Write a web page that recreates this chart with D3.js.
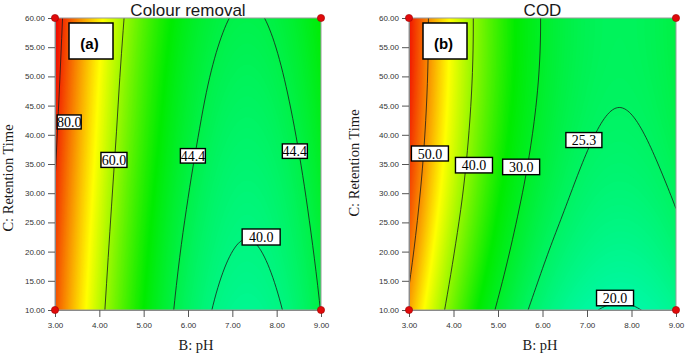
<!DOCTYPE html>
<html><head><meta charset="utf-8">
<script src="https://cdn.jsdelivr.net/npm/d3@7"></script>
<style>body{margin:0;background:#fff} svg{display:block}</style>
</head><body>
<svg id="chart" width="685" height="357"></svg>
<script>
// ---------------- data ----------------
const pHValues = [3, 4, 5, 6, 7, 8, 9];
const timeValues = [10, 20, 30, 40, 50, 60];
const xTicks = [3, 4, 5, 6, 7, 8, 9];
const yTicks = [10, 15, 20, 25, 30, 35, 40, 45, 50, 55, 60];
const titles = ["Colour removal", "COD"];
const tags = ["(a)", "(b)"];
const xAxisTitle = "B: pH";
const yAxisTitle = "C: Retention Time";

// response: rows = retention time (10..60), columns = pH (3..9)
const colourRemoval = [
  [77.7, 61.7, 50.0, 42.4, 38.9, 39.6, 44.5],
  [78.7, 62.8, 51.0, 43.4, 40.0, 40.7, 45.5],
  [79.8, 63.9, 52.1, 44.5, 41.0, 41.7, 46.6],
  [80.9, 65.0, 53.2, 45.6, 42.1, 42.8, 47.7],
  [82.0, 66.0, 54.2, 46.6, 43.2, 43.9, 48.8],
  [83.0, 67.1, 55.3, 47.7, 44.3, 45.0, 49.8]
];
const cod = [
  [49.0, 38.0, 29.5, 23.7, 20.4, 19.8, 21.7],
  [51.3, 40.2, 31.8, 25.9, 22.7, 22.0, 24.0],
  [53.0, 42.0, 33.5, 27.7, 24.4, 23.8, 25.7],
  [54.2, 43.2, 34.7, 28.9, 25.6, 25.0, 26.9],
  [54.9, 43.9, 35.4, 29.6, 26.3, 25.7, 27.6],
  [55.1, 44.1, 35.6, 29.8, 26.5, 25.9, 27.8]
];
const colourLevels = [80, 60, 44.4, 40];
const codLevels = [50, 40, 30, 25.3, 20];
const colourLabelText = ["80.0", "60.0", "44.4", "44.4", "40.0"];
const colourLabelPH = [3.32, 4.33, 6.11, 8.41, 7.65];
const colourLabelTime = [42.2, 35.7, 36.4, 37.2, 22.5];
const codLabelText = ["50.0", "40.0", "30.0", "25.3", "20.0"];
const codLabelPH = [3.47, 4.46, 5.52, 6.93, 7.63];
const codLabelTime = [36.8, 34.8, 34.5, 39.1, 12.05];
const designPointsPH = [3, 3, 9, 9];
const designPointsTime = [10, 60, 10, 60];

// ---------------- helpers ----------------
function cr(p0, p1, p2, p3, t) {
  return 0.5 * (2 * p1 + (-p0 + p2) * t + (2 * p0 - 5 * p1 + 4 * p2 - p3) * t * t + (-p0 + 3 * p1 - 3 * p2 + p3) * t * t * t);
}
function getter(arr) {
  const n = arr.length;
  return k => k < 0 ? 3 * arr[0] - 3 * arr[1] + arr[2]
    : k >= n ? 3 * arr[n - 1] - 3 * arr[n - 2] + arr[n - 3] : arr[k];
}
function interp1(arr, u) {
  const n = arr.length, g = getter(arr);
  let i = Math.floor(u); if (i > n - 2) i = n - 2; if (i < 0) i = 0;
  return cr(g(i - 1), g(i), g(i + 1), g(i + 2), u - i);
}
function surface(grid, u, v) {
  const rows = grid.map(r => interp1(r, u));
  return interp1(rows, v);
}

const ramp = ["#0000ff", "#00ffff", "#00ec00", "#ffff00", "#f00000"];
const panels = [
  { title: titles[0], tag: tags[0], grid: colourRemoval, levels: colourLevels,
    lt: colourLabelText, lp: colourLabelPH, lm: colourLabelTime,
    boxes: [[24, 14], [26, 15], [25, 14.5], [25, 14.5], [38, 16]],
    x0: 55, x1: 321, y0: 18, y1: 310, domain: [10, 30, 50, 66, 83],
    yLab: [8, 178], xLabX: 196, tagBox: [69, 23, 44, 36] },
  { title: titles[1], tag: tags[1], grid: cod, levels: codLevels,
    lt: codLabelText, lp: codLabelPH, lm: codLabelTime,
    boxes: [[37, 15], [37, 15.5], [37, 15.5], [36, 15], [37, 15.5]],
    x0: 409, x1: 676, y0: 18, y1: 310, domain: [-7, 13, 33, 45, 56],
    yLab: [354, 163], xLabX: 540, tagBox: [423, 23, 44, 36] }
];

const svg = d3.select("#chart");
const defs = svg.append("defs");
const sans = "'Liberation Sans', Arial, sans-serif";
const serif = "'Liberation Serif', 'Times New Roman', serif";

panels.forEach((P, k) => {
  const x = d3.scaleLinear().domain([pHValues[0], pHValues[pHValues.length - 1]]).range([P.x0, P.x1]);
  const y = d3.scaleLinear().domain([timeValues[0], timeValues[timeValues.length - 1]]).range([P.y1, P.y0]);
  const color = d3.scaleLinear().domain(P.domain).range(ramp).clamp(true);

  const nx = 161, ny = 147;
  const pStep = (pHValues[pHValues.length - 1] - pHValues[0]) / (nx - 1);
  const tStep = (timeValues[timeValues.length - 1] - timeValues[0]) / (ny - 1);
  const vals = new Array(nx * ny);
  for (let j = 0; j < ny; j++) {
    const t = timeValues[0] + j * tStep;
    const v = (t - timeValues[0]) / (timeValues[1] - timeValues[0]);
    for (let i = 0; i < nx; i++) {
      const p = pHValues[0] + i * pStep;
      const u = (p - pHValues[0]) / (pHValues[1] - pHValues[0]);
      vals[j * nx + i] = surface(P.grid, u, v);
    }
  }
  const proj = d3.geoTransform({
    point(px, py) { this.stream.point(x(pHValues[0] + (px - 0.5) * pStep), y(timeValues[0] + (py - 0.5) * tStep)); }
  });
  const path = d3.geoPath(proj);

  const clipId = "clip" + k;
  defs.append("clipPath").attr("id", clipId).append("rect")
    .attr("x", P.x0).attr("y", P.y0).attr("width", P.x1 - P.x0).attr("height", P.y1 - P.y0);
  const g = svg.append("g").attr("clip-path", `url(#${clipId})`);

  const [mn, mx] = d3.extent(vals);
  const step = 0.2;
  const th = d3.range(Math.floor(mn / step) * step, mx, step);
  g.append("rect").attr("x", P.x0).attr("y", P.y0).attr("width", P.x1 - P.x0).attr("height", P.y1 - P.y0)
    .attr("fill", color(mn));
  g.selectAll("path.band").data(d3.contours().size([nx, ny]).thresholds(th)(vals)).join("path")
    .attr("class", "band").attr("d", path).attr("fill", d => color(d.value + step / 2));
  g.selectAll("path.iso").data(d3.contours().size([nx, ny]).thresholds(P.levels)(vals)).join("path")
    .attr("class", "iso").attr("d", path).attr("fill", "none").attr("stroke", "#1a1a1a").attr("stroke-width", 0.8);

  // border
  svg.append("rect").attr("x", P.x0).attr("y", P.y0).attr("width", P.x1 - P.x0).attr("height", P.y1 - P.y0)
    .attr("fill", "none").attr("stroke", "#9a9a9a").attr("stroke-width", 1);

  // axes
  const ax = svg.append("g").attr("transform", `translate(0,${P.y1})`)
    .call(d3.axisBottom(x).tickValues(xTicks).tickFormat(d3.format(".2f")).tickSize(7).tickSizeOuter(0).tickPadding(5));
  const ay = svg.append("g").attr("transform", `translate(${P.x0},0)`)
    .call(d3.axisLeft(y).tickValues(yTicks).tickFormat(d3.format(".2f")).tickSize(7).tickSizeOuter(0).tickPadding(3));
  [ax, ay].forEach(a => {
    a.select(".domain").attr("stroke", "#8a8a8a");
    a.selectAll(".tick line").attr("stroke", "#555");
    a.selectAll(".tick text").attr("fill", "#333").style("font-family", sans).style("font-size", "8px");
  });

  // design points
  svg.selectAll(null).data(designPointsPH).join("circle")
    .attr("cx", d => x(d)).attr("cy", (d, i) => y(designPointsTime[i])).attr("r", 3.6)
    .attr("fill", "#e00a0a").attr("stroke", "#a00000").attr("stroke-width", 0.6);

  // contour labels
  P.lt.forEach((txt, i) => {
    const cx = x(P.lp[i]), cy = y(P.lm[i]);
    const [w, h] = P.boxes[i];
    svg.append("rect").attr("x", cx - w / 2).attr("y", cy - h / 2).attr("width", w).attr("height", h)
      .attr("fill", "#fff").attr("stroke", "#000").attr("stroke-width", 1.4);
    svg.append("text").attr("x", cx).attr("y", cy).attr("dy", "0.36em").attr("text-anchor", "middle")
      .style("font-family", serif).style("font-size", "14px").attr("fill", "#000").text(txt);
  });

  // tag box
  const [tx, ty, tw, tth] = P.tagBox;
  svg.append("rect").attr("x", tx).attr("y", ty).attr("width", tw).attr("height", tth)
    .attr("fill", "#fff").attr("stroke", "#000").attr("stroke-width", 1.5);
  svg.append("text").attr("x", tx + tw / 2 - 1.5).attr("y", ty + 26).attr("text-anchor", "middle")
    .style("font-family", sans).style("font-size", "15px").style("font-weight", "bold").text(P.tag);

  // titles
  svg.append("text").attr("x", (P.x0 + P.x1) / 2).attr("y", 15.5).attr("text-anchor", "middle")
    .style("font-family", sans).style("font-size", "17px").attr("fill", "#1a1a1a").text(P.title);
  svg.append("text").attr("x", P.xLabX).attr("y", 350).attr("text-anchor", "middle")
    .style("font-family", serif).style("font-size", "14.5px").attr("fill", "#1a1a1a").text(xAxisTitle);
  svg.append("text").attr("transform", `translate(${P.yLab[0]},${P.yLab[1]}) rotate(-90)`)
    .attr("dy", "0.35em").attr("text-anchor", "middle")
    .style("font-family", serif).style("font-size", "14.5px").attr("fill", "#1a1a1a").text(yAxisTitle);
});
</script>
</body></html>
